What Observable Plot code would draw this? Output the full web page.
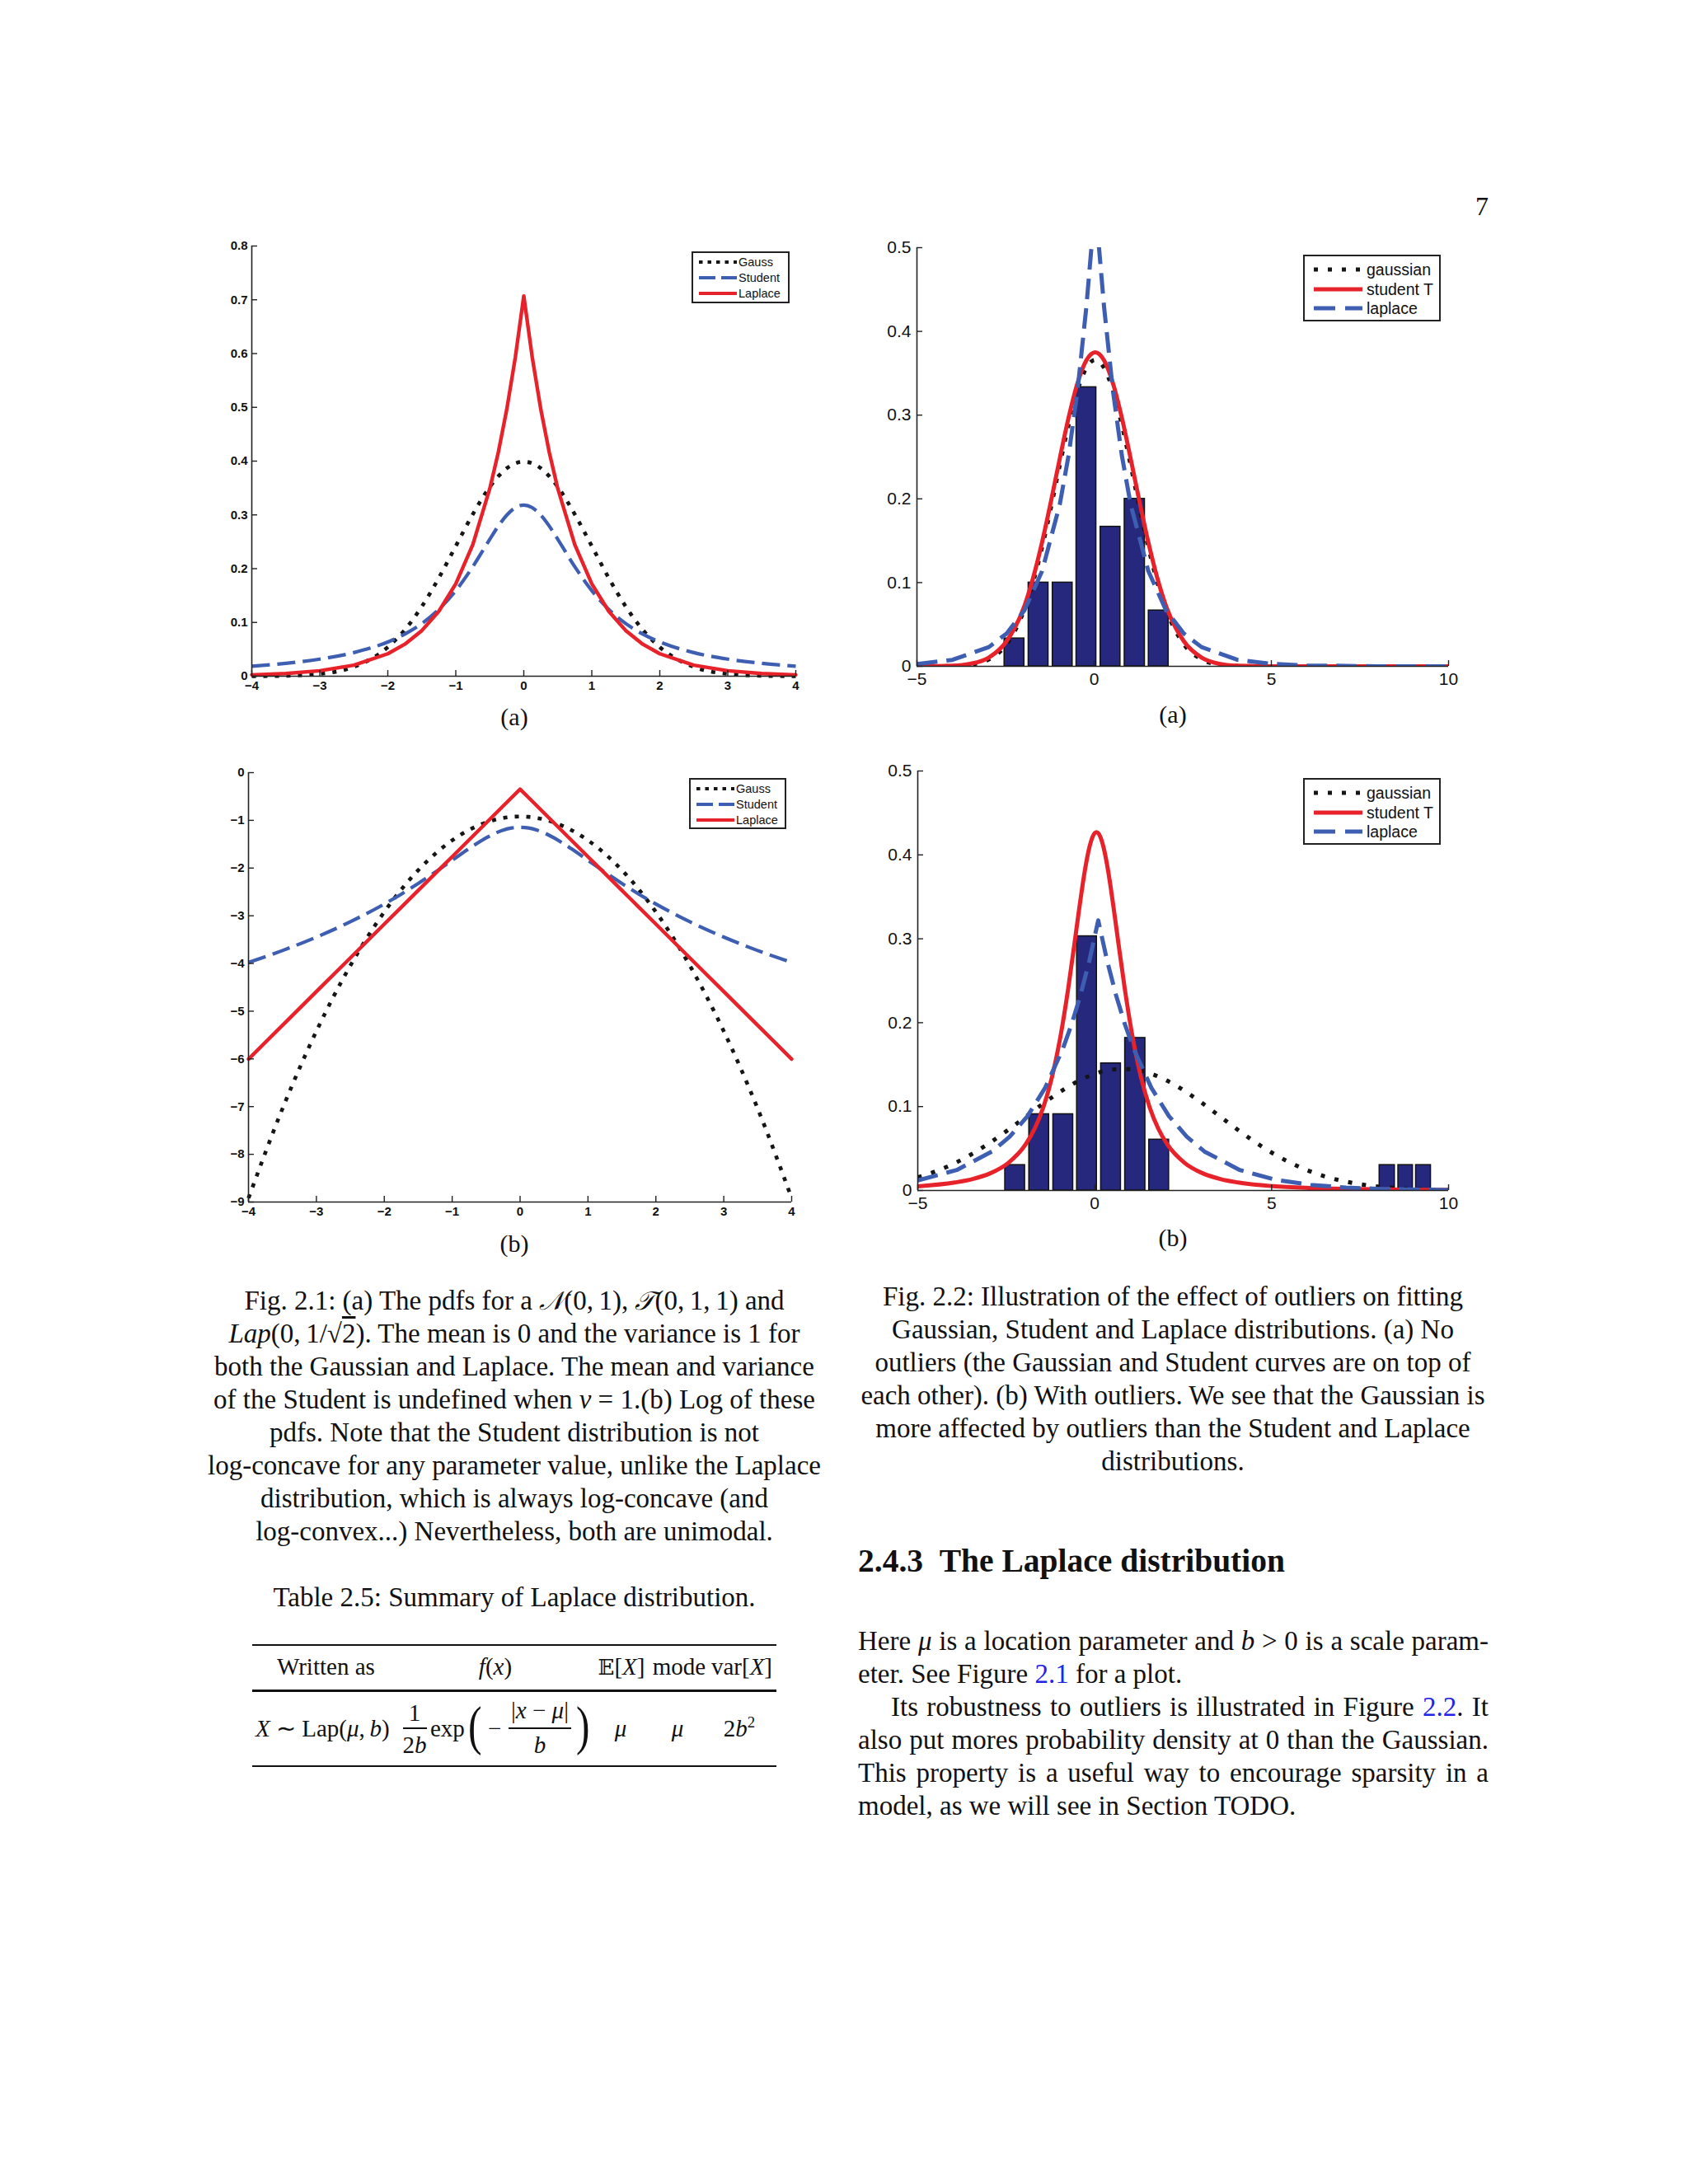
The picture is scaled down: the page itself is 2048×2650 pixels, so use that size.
<!DOCTYPE html>
<html><head><meta charset="utf-8">
<script src="https://cdn.jsdelivr.net/npm/d3@7"></script>
<script src="https://cdn.jsdelivr.net/npm/@observablehq/plot@0.6"></script>
<style>
html,body{margin:0;padding:0;background:#fff;}
#page{position:relative;width:2048px;height:2650px;background:#fff;overflow:hidden;font-family:"Liberation Serif","Times New Roman",serif;color:#111;}
.abs{position:absolute;white-space:nowrap;}
.cap{position:absolute;text-align:center;font-size:33px;line-height:40px;white-space:nowrap;}
.sub{position:absolute;text-align:center;font-size:30px;line-height:40px;width:100px;}
.legend{position:absolute;border:2px solid #222;background:#fff;box-sizing:border-box;font-family:"Liberation Sans",Arial,sans-serif;color:#111;}
.legend .row{position:absolute;height:20px;display:flex;align-items:center;white-space:nowrap;}
.legend svg{display:block;}
.cal{font-family:"DejaVu Serif","DejaVu Sans",serif;font-style:italic;font-size:0.95em;}
.ov{text-decoration:overline;}
.lk{color:#2424e6;}
.par{position:absolute;font-size:33px;line-height:40px;white-space:nowrap;text-align:justify;text-align-last:justify;}
.tb{position:absolute;font-size:29px;line-height:36px;white-space:nowrap;}
.rule{position:absolute;background:#111;}
</style>
</head><body>
<div id="page">
  <div class="abs" style="left:1766px;top:230px;width:40px;text-align:right;font-size:32px;line-height:40px;">7</div>

  <div class="sub" style="left:574px;top:850px;">(a)</div>
  <div class="sub" style="left:1373px;top:847px;">(a)</div>
  <div class="sub" style="left:574px;top:1489px;">(b)</div>
  <div class="sub" style="left:1373px;top:1482px;">(b)</div>

  <div class="cap" style="left:224px;width:800px;top:1558px;">
    Fig. 2.1: (a) The pdfs for a <span class="cal">𝒩</span>(0,&#8201;1), <span class="cal">𝒯</span>(0,&#8201;1,&#8201;1) and<br>
    <i>Lap</i>(0,&#8201;1/√<span class="ov">2</span>). The mean is 0 and the variance is 1 for<br>
    both the Gaussian and Laplace. The mean and variance<br>
    of the Student is undefined when <i>ν</i> = 1.(b) Log of these<br>
    pdfs. Note that the Student distribution is not<br>
    log-concave for any parameter value, unlike the Laplace<br>
    distribution, which is always log-concave (and<br>
    log-convex...) Nevertheless, both are unimodal.
  </div>

  <div class="cap" style="left:224px;width:800px;top:1918px;">Table 2.5: Summary of Laplace distribution.</div>

  <div class="rule" style="left:306px;width:636px;top:1995px;height:2px;"></div>
  <div class="rule" style="left:306px;width:636px;top:2050px;height:3px;"></div>
  <div class="rule" style="left:306px;width:636px;top:2142px;height:2px;"></div>
  <div class="tb" style="left:336px;top:2004px;">Written as</div>
  <div class="tb" style="left:551px;width:100px;text-align:center;top:2004px;"><i>f</i>(<i>x</i>)</div>
  <div class="tb" style="left:704px;width:100px;text-align:center;top:2004px;"><span style="font-family:'DejaVu Serif',serif;font-size:0.9em;">𝔼</span>[<i>X</i>]</div>
  <div class="tb" style="left:774px;width:100px;text-align:center;top:2004px;">mode</div>
  <div class="tb" style="left:850px;width:100px;text-align:center;top:2004px;">var[<i>X</i>]</div>

  <div class="tb" style="left:310px;top:2079px;"><i>X</i> ∼ Lap(<i>μ</i>,&#8201;<i>b</i>)</div>
  <div class="tb" style="left:483px;width:40px;text-align:center;top:2060px;">1</div>
  <div class="rule" style="left:489px;width:29px;top:2096px;height:1.5px;"></div>
  <div class="tb" style="left:478px;width:50px;text-align:center;top:2099px;">2<i>b</i></div>
  <div class="tb" style="left:522px;top:2079px;">exp</div>
  <div class="abs" style="left:568px;top:2056px;font-size:66px;line-height:76px;transform:scaleX(0.75);transform-origin:left;">(</div>
  <div class="tb" style="left:592px;top:2079px;">−</div>
  <div class="tb" style="left:605px;width:100px;text-align:center;top:2057px;">|<i>x</i> − <i>μ</i>|</div>
  <div class="rule" style="left:617px;width:76px;top:2096px;height:1.5px;"></div>
  <div class="tb" style="left:635px;width:40px;text-align:center;top:2099px;"><i>b</i></div>
  <div class="abs" style="left:699px;top:2056px;font-size:66px;line-height:76px;transform:scaleX(0.75);transform-origin:left;">)</div>
  <div class="tb" style="left:733px;width:40px;text-align:center;top:2079px;"><i>μ</i></div>
  <div class="tb" style="left:802px;width:40px;text-align:center;top:2079px;"><i>μ</i></div>
  <div class="tb" style="left:857px;width:80px;text-align:center;top:2079px;">2<i>b</i><sup style="font-size:0.65em;vertical-align:0.6em;line-height:0;">2</sup></div>

  <div class="cap" style="left:1023px;width:800px;top:1553px;">
    Fig. 2.2: Illustration of the effect of outliers on fitting<br>
    Gaussian, Student and Laplace distributions. (a) No<br>
    outliers (the Gaussian and Student curves are on top of<br>
    each other). (b) With outliers. We see that the Gaussian is<br>
    more affected by outliers than the Student and Laplace<br>
    distributions.
  </div>

  <div class="abs" style="left:1041px;top:1870px;font-size:39.5px;line-height:48px;font-weight:bold;">2.4.3&#8194;The Laplace distribution</div>

  <div class="par" style="left:1041px;width:765px;top:1971px;">Here <i>μ</i> is a location parameter and <i>b</i> &gt; 0 is a scale param-</div>
  <div class="par" style="left:1041px;width:765px;top:2011px;text-align-last:left;">eter. See Figure <span class="lk">2.1</span> for a plot.</div>
  <div class="par" style="left:1081px;width:725px;top:2051px;">Its robustness to outliers is illustrated in Figure <span class="lk">2.2</span>. It</div>
  <div class="par" style="left:1041px;width:765px;top:2091px;">also put mores probability density at 0 than the Gaussian.</div>
  <div class="par" style="left:1041px;width:765px;top:2131px;">This property is a useful way to encourage sparsity in a</div>
  <div class="par" style="left:1041px;width:765px;top:2171px;text-align-last:left;">model, as we will see in Section TODO.</div>
</div>
<script>
// ---------- Fig 2.1 data (pdfs and log pdfs) ----------
const pdfX = [-4,-3.5,-3,-2.5,-2,-1.75,-1.5,-1.25,-1,-0.75,-0.5,-0.375,-0.25,-0.125,0,0.125,0.25,0.375,0.5,0.75,1,1.25,1.5,1.75,2,2.5,3,3.5,4];
const pdfGauss = [0.0001,0.0009,0.0044,0.0175,0.0540,0.0863,0.1295,0.1826,0.2420,0.3011,0.3521,0.3718,0.3867,0.3958,0.3989,0.3958,0.3867,0.3718,0.3521,0.3011,0.2420,0.1826,0.1295,0.0863,0.0540,0.0175,0.0044,0.0009,0.0001];
const pdfStudent = [0.0187,0.0240,0.0318,0.0439,0.0637,0.0784,0.0979,0.1242,0.1592,0.2037,0.2546,0.2791,0.2996,0.3134,0.3183,0.3134,0.2996,0.2791,0.2546,0.2037,0.1592,0.1242,0.0979,0.0784,0.0637,0.0439,0.0318,0.0240,0.0187];
const pdfLaplace = [0.0025,0.0050,0.0102,0.0206,0.0418,0.0595,0.0848,0.1207,0.1719,0.2448,0.3487,0.4161,0.4965,0.5925,0.7071,0.5925,0.4965,0.4161,0.3487,0.2448,0.1719,0.1207,0.0848,0.0595,0.0418,0.0206,0.0102,0.0050,0.0025];
const logGauss = [-8.919,-7.044,-5.419,-4.044,-2.919,-2.450,-2.044,-1.700,-1.419,-1.200,-1.044,-0.989,-0.950,-0.927,-0.919,-0.927,-0.950,-0.989,-1.044,-1.200,-1.419,-1.700,-2.044,-2.450,-2.919,-4.044,-5.419,-7.044,-8.919];
const logStudent = [-3.978,-3.729,-3.447,-3.126,-2.754,-2.547,-2.323,-2.086,-1.838,-1.591,-1.368,-1.276,-1.205,-1.160,-1.145,-1.160,-1.205,-1.276,-1.368,-1.591,-1.838,-2.086,-2.323,-2.547,-2.754,-3.126,-3.447,-3.729,-3.978];
const logLaplace = [-6.004,-5.297,-4.589,-3.882,-3.175,-2.822,-2.468,-2.114,-1.761,-1.407,-1.054,-0.877,-0.700,-0.523,-0.347,-0.523,-0.700,-0.877,-1.054,-1.407,-1.761,-2.114,-2.468,-2.822,-3.175,-3.882,-4.589,-5.297,-6.004];
const leftXTicks = [-4,-3,-2,-1,0,1,2,3,4];
const pdfYTicks = [0,0.1,0.2,0.3,0.4,0.5,0.6,0.7,0.8];
const logYTicks = [0,-1,-2,-3,-4,-5,-6,-7,-8,-9];

// ---------- Fig 2.2 data (histograms and fits) ----------
const binLeft = [-2.53,-1.85,-1.17,-0.50,0.18,0.86,1.54];
const binRight = [-1.97,-1.29,-0.61,0.06,0.74,1.43,2.10];
const aHeights = [0.0333,0.1000,0.1000,0.3333,0.1667,0.2000,0.0667];
const bHeights = [0.0303,0.0909,0.0909,0.3030,0.1515,0.1818,0.0606];
const outLeft = [8.05,8.58,9.08];
const outRight = [8.48,8.99,9.50];
const outHeights = [0.0303,0.0303,0.0303];

const aFitX = [-5,-4,-3.5,-2.97,-2.47,-1.97,-1.72,-1.47,-1.22,-0.97,-0.72,-0.47,-0.22,0.03,0.28,0.53,0.78,1.03,1.28,1.53,1.78,2.03,2.53,3.03,3.53,4.03,5,10];
const aGauss = [0,0.0004,0.0020,0.0083,0.0264,0.0680,0.1009,0.1420,0.1896,0.2403,0.2888,0.3294,0.3565,0.3660,0.3565,0.3294,0.2888,0.2403,0.1896,0.1420,0.1009,0.0680,0.0264,0.0083,0.0021,0.0004,0,0];
const aStudent = [0.0001,0.0008,0.0030,0.0105,0.0300,0.0718,0.1058,0.1480,0.1966,0.2481,0.2972,0.3382,0.3654,0.3750,0.3654,0.3382,0.2972,0.2481,0.1966,0.1480,0.1058,0.0718,0.0300,0.0105,0.0030,0.0008,0.0001,0];
const aLapX = [-5,-4,-2.97,-2.47,-1.97,-1.47,-0.97,-0.72,-0.47,-0.22,-0.07,0.03,0.13,0.28,0.53,0.78,1.03,1.53,2.03,2.53,3.03,4.03,5,6,8,10];
const aLaplace = [0.0027,0.0077,0.0230,0.0392,0.0667,0.1136,0.1933,0.2522,0.3290,0.4292,0.5035,0.5600,0.5035,0.4292,0.3290,0.2522,0.1933,0.1136,0.0667,0.0392,0.0230,0.0079,0.0029,0.0010,0.0001,0];

const bGaussX = [-5,-4.5,-4,-3.5,-3,-2.5,-2,-1.5,-1,-0.5,0,0.5,1,1.5,2,2.5,3,3.5,4,4.5,5,5.5,6,6.5,7,7.5,8,8.5,9,9.5,10];
const bGauss = [0.0157,0.0226,0.0316,0.0427,0.0558,0.0706,0.0863,0.1022,0.1170,0.1297,0.1390,0.1441,0.1446,0.1404,0.1318,0.1198,0.1053,0.0896,0.0737,0.0587,0.0452,0.0337,0.0243,0.0169,0.0114,0.0075,0.0047,0.0029,0.0017,0.0010,0.0005];
const bStudentX = [-5,-3.95,-3.45,-2.95,-2.45,-1.95,-1.7,-1.45,-1.2,-0.95,-0.75,-0.55,-0.45,-0.35,-0.25,-0.15,-0.05,0.05,0.15,0.25,0.35,0.45,0.55,0.65,0.85,1.05,1.3,1.55,1.8,2.05,2.55,3.05,3.55,4.05,5.05,6.05,7.05,8.05,10];
const bStudent = [0.0050,0.0095,0.0136,0.0205,0.0326,0.0551,0.0734,0.0995,0.1364,0.1878,0.2404,0.3010,0.3321,0.3619,0.3882,0.4090,0.4224,0.4270,0.4224,0.4090,0.3882,0.3619,0.3321,0.3010,0.2404,0.1878,0.1364,0.0995,0.0734,0.0551,0.0326,0.0205,0.0136,0.0095,0.0051,0.0030,0.0019,0.0013,0.0007];
const bLapX = [-5,-3.9,-2.9,-2.4,-1.9,-1.4,-0.9,-0.65,-0.4,-0.15,0.1,0.35,0.6,0.85,1.1,1.6,2.1,2.6,3.1,4.1,5.1,6.1,7.1,8.1,10];
const bLaplace = [0.0120,0.0244,0.0465,0.0642,0.0886,0.1224,0.1689,0.1985,0.2332,0.2740,0.3220,0.2740,0.2332,0.1985,0.1689,0.1224,0.0886,0.0642,0.0465,0.0244,0.0128,0.0067,0.0035,0.0018,0.0005];
const rightXTicks = [-5,0,5,10];
const rightYTicks = [0,0.1,0.2,0.3,0.4,0.5];

// ---------- styles ----------
const BLACK = "#151515", BLUE = "#3e5eb2", RED = "#e8222a", BAR = "#26287e";
const fmt = d => d < 0 ? "\u2212" + Math.abs(d) : String(d);
const pts = (xs, ys) => xs.map((x, i) => ({x, y: ys[i]}));
const bins = (l, r, h) => l.map((x1, i) => ({x1, x2: r[i], y: h[i]}));

function chart({W, H, xDomain, yDomain, xTicks, yTicks, fontSize, fontWeight, xPad, yPad, marks}) {
  return Plot.plot({
    width: W + 80, height: H + 52,
    marginLeft: 60, marginRight: 20, marginTop: 12, marginBottom: 40,
    x: {domain: xDomain}, y: {domain: yDomain},
    style: {background: "transparent", fontFamily: '"Liberation Sans", Arial, sans-serif',
            fontSize: fontSize + "px", fontWeight: fontWeight, color: "#111", overflow: "visible"},
    marks: [
      ...marks,
      Plot.ruleX([xDomain[0]], {stroke: "#222", strokeWidth: 1.6}),
      Plot.ruleY([yDomain[0]], {stroke: "#222", strokeWidth: 1.6}),
      Plot.tickX(xTicks, {x: d => d, insetTop: H - 7, stroke: "#222", strokeWidth: 1.4}),
      Plot.tickY(yTicks, {y: d => d, insetRight: W - 7, stroke: "#222", strokeWidth: 1.4}),
      Plot.axisX({ticks: xTicks, tickSize: 0, tickPadding: xPad, tickFormat: fmt, label: null}),
      Plot.axisY({ticks: yTicks, tickSize: 0, tickPadding: yPad, tickFormat: fmt, label: null})
    ]
  });
}

const page = document.getElementById("page");
function place(el, left, top) {
  el.style.position = "absolute"; el.style.left = left + "px"; el.style.top = top + "px";
  page.appendChild(el);
}

const leftDot = {stroke: BLACK, strokeWidth: 4.6, strokeDasharray: "5 9", strokeLinecap: "butt", curve: "monotone-x"};
const leftDash = {stroke: BLUE, strokeWidth: 4.2, strokeDasharray: "22 9", strokeLinecap: "butt", curve: "monotone-x"};
const leftSolid = {stroke: RED, strokeWidth: 4.4, curve: "linear"};

// Top-left: pdfs
place(chart({W: 660, H: 522, xDomain: [-4, 4], yDomain: [0, 0.8], xTicks: leftXTicks, yTicks: pdfYTicks,
  fontSize: 15, fontWeight: "bold", xPad: 6, yPad: 5,
  marks: [
    Plot.line(pts(pdfX, pdfGauss), {x: "x", y: "y", ...leftDot}),
    Plot.line(pts(pdfX, pdfStudent), {x: "x", y: "y", ...leftDash}),
    Plot.line(pts(pdfX, pdfLaplace), {x: "x", y: "y", ...leftSolid})
  ]}), 245, 286);

// Bottom-left: log pdfs
place(chart({W: 659, H: 521, xDomain: [-4, 4], yDomain: [-9, 0], xTicks: leftXTicks, yTicks: logYTicks,
  fontSize: 15, fontWeight: "bold", xPad: 6, yPad: 5,
  marks: [
    Plot.line(pts(pdfX, logGauss), {x: "x", y: "y", ...leftDot}),
    Plot.line(pts(pdfX, logStudent), {x: "x", y: "y", ...leftDash}),
    Plot.line(pts(pdfX, logLaplace), {x: "x", y: "y", ...leftSolid})
  ]}), 241, 925);

const rDot = {stroke: BLACK, strokeWidth: 5, strokeDasharray: "5 12", strokeLinecap: "butt", curve: "monotone-x", clip: true};
const rDash = {stroke: BLUE, strokeWidth: 5, strokeDasharray: "25 11", strokeLinecap: "butt", curve: "linear", clip: true};
const rSolid = {stroke: RED, strokeWidth: 5, curve: "monotone-x", clip: true};
const barStyle = {fill: BAR, stroke: "#111", strokeWidth: 1.5};

// Top-right: no outliers
place(chart({W: 645, H: 508, xDomain: [-5, 10], yDomain: [0, 0.5], xTicks: rightXTicks, yTicks: rightYTicks,
  fontSize: 21, fontWeight: "normal", xPad: 8, yPad: 7,
  marks: [
    Plot.rect(bins(binLeft, binRight, aHeights), {x1: "x1", x2: "x2", y1: 0, y2: "y", ...barStyle}),
    Plot.line(pts(aFitX, aGauss), {x: "x", y: "y", ...rDot}),
    Plot.line(pts(aFitX, aStudent), {x: "x", y: "y", ...rSolid}),
    Plot.line(pts(aLapX, aLaplace), {x: "x", y: "y", ...rDash})
  ]}), 1052, 288);

// Bottom-right: with outliers
place(chart({W: 644, H: 509, xDomain: [-5, 10], yDomain: [0, 0.5], xTicks: rightXTicks, yTicks: rightYTicks,
  fontSize: 21, fontWeight: "normal", xPad: 8, yPad: 7,
  marks: [
    Plot.rect(bins(binLeft, binRight, bHeights), {x1: "x1", x2: "x2", y1: 0, y2: "y", ...barStyle}),
    Plot.rect(bins(outLeft, outRight, outHeights), {x1: "x1", x2: "x2", y1: 0, y2: "y", ...barStyle}),
    Plot.line(pts(bGaussX, bGauss), {x: "x", y: "y", ...rDot}),
    Plot.line(pts(bStudentX, bStudent), {x: "x", y: "y", ...rSolid}),
    Plot.line(pts(bLapX, bLaplace), {x: "x", y: "y", ...rDash})
  ]}), 1053, 923);

// ---------- legends ----------
function legend(box, rows, sw) {
  const div = document.createElement("div");
  div.className = "legend";
  div.style.left = box[0] + "px"; div.style.top = box[1] + "px";
  div.style.width = box[2] + "px"; div.style.height = box[3] + "px";
  rows.forEach(r => {
    const row = document.createElement("div");
    row.className = "row";
    row.style.left = sw.left + "px"; row.style.top = (r.cy - 10) + "px";
    row.style.fontSize = sw.font + "px";
    const dash = r.dash ? `stroke-dasharray="${r.dash}"` : "";
    row.innerHTML = `<svg width="${sw.w}" height="20"><line x1="0" y1="10" x2="${sw.w}" y2="10" stroke="${r.color}" stroke-width="${sw.lw}" ${dash}/></svg><span style="margin-left:${sw.gap}px">${r.label}</span>`;
    div.appendChild(row);
  });
  page.appendChild(div);
}
const leftRows = [
  {label: "Gauss", color: BLACK, dash: "4.5 6", cy: 11},
  {label: "Student", color: BLUE, dash: "20 7", cy: 30},
  {label: "Laplace", color: RED, dash: null, cy: 49}
];
const leftSw = {left: 7, w: 46, lw: 4.2, gap: 2, font: 14.5};
legend([839, 305, 119, 63], leftRows, leftSw);
legend([836, 944, 118, 62], leftRows, leftSw);
const rightRows = [
  {label: "gaussian", color: BLACK, dash: "5 12", cy: 16},
  {label: "student T", color: RED, dash: null, cy: 40},
  {label: "laplace", color: BLUE, dash: "26 12", cy: 63}
];
const rightSw = {left: 11, w: 59, lw: 5, gap: 5, font: 19.5};
legend([1581, 309, 167, 81], rightRows, rightSw);
legend([1581, 944, 167, 81], rightRows, rightSw);
</script>
</body></html>
